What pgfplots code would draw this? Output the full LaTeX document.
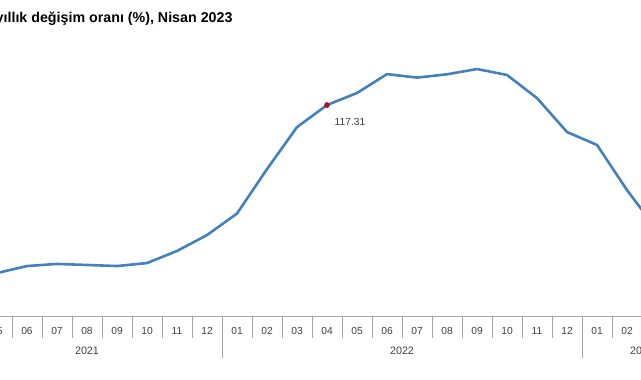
\documentclass[border=0pt]{standalone}
\usepackage{fontspec}
\setmainfont{Liberation Sans}
\usepackage{pgfplots}
\pgfplotsset{compat=1.18}
\definecolor{lineblue}{HTML}{4281BD}
\definecolor{mred}{HTML}{A8122E}
\definecolor{sep}{HTML}{A8A8A8}
\definecolor{txt}{HTML}{404040}
\begin{document}
\begin{tikzpicture}
\useasboundingbox (0,0) rectangle (641bp,380bp);
\node[anchor=base west, inner sep=0, font=\bfseries\fontsize{14.3}{16}\selectfont] at (-4.5bp,357bp) {yıllık değişim oranı (\%), Nisan 2023};
\begin{axis}[
  at={(-3bp,64bp)}, anchor=south west,
  scale only axis, width=644bp, height=276bp,
  xmin=1, xmax=22.4667, ymin=-3.26, ymax=154.5,
  clip mode=individual,
  axis x line*=bottom, axis y line=none,
  x axis line style={draw=sep, line width=0.8bp},
  xtick={0,...,24},
  xticklabels={04,05,06,07,08,09,10,11,12,01,02,03,04,05,06,07,08,09,10,11,12,01,02,03,04},
  major tick length=0pt,
  minor xtick={0.5,1.5,...,23.5},
  minor tick length=22bp,
  tick align=outside,
  minor tick style={draw=sep, line width=0.8bp},
  major tick style={draw=sep, line width=0.8bp},
  extra x ticks={8.5,20.5}, extra x tick labels={},
  extra x tick style={major tick length=42bp},
  xticklabel style={font=\fontsize{10.3}{12}\selectfont, text=txt, anchor=base, yshift=-18bp},
]
\addplot[lineblue, line width=2.6bp, line join=round, mark=none] coordinates {
(0,20.0) (1,21.3) (2,25.3) (3,26.5) (4,25.9) (5,25.3) (6,27.0) (7,33.9) (8,43.0)
(9,55.3) (10,80.7) (11,104.7) (12,117.31) (13,124.2) (14,135.0) (15,133.0) (16,134.9)
(17,137.9) (18,134.5) (19,121.3) (20,101.9) (21,94.5) (22,68.7) (23,46.0) (24,38.0)
};
\addplot[only marks, mark=*, mark size=2.6bp, mred,
  nodes near coords={117.31},
  every node near coord/.append style={anchor=center, xshift=23bp, yshift=-17bp, text=txt, font=\fontsize{10.3}{12}\selectfont}]
  coordinates {(12,117.31)};
\node[anchor=base, text=txt, font=\fontsize{10.8}{12}\selectfont, yshift=-38bp] at (axis cs:4,-3.26) {2021};
\node[anchor=base, text=txt, font=\fontsize{10.8}{12}\selectfont, yshift=-38bp] at (axis cs:14.5,-3.26) {2022};
\node[anchor=base, text=txt, font=\fontsize{10.8}{12}\selectfont, yshift=-38bp] at (axis cs:22.5,-3.26) {2023};
\end{axis}
\end{tikzpicture}
\end{document}
